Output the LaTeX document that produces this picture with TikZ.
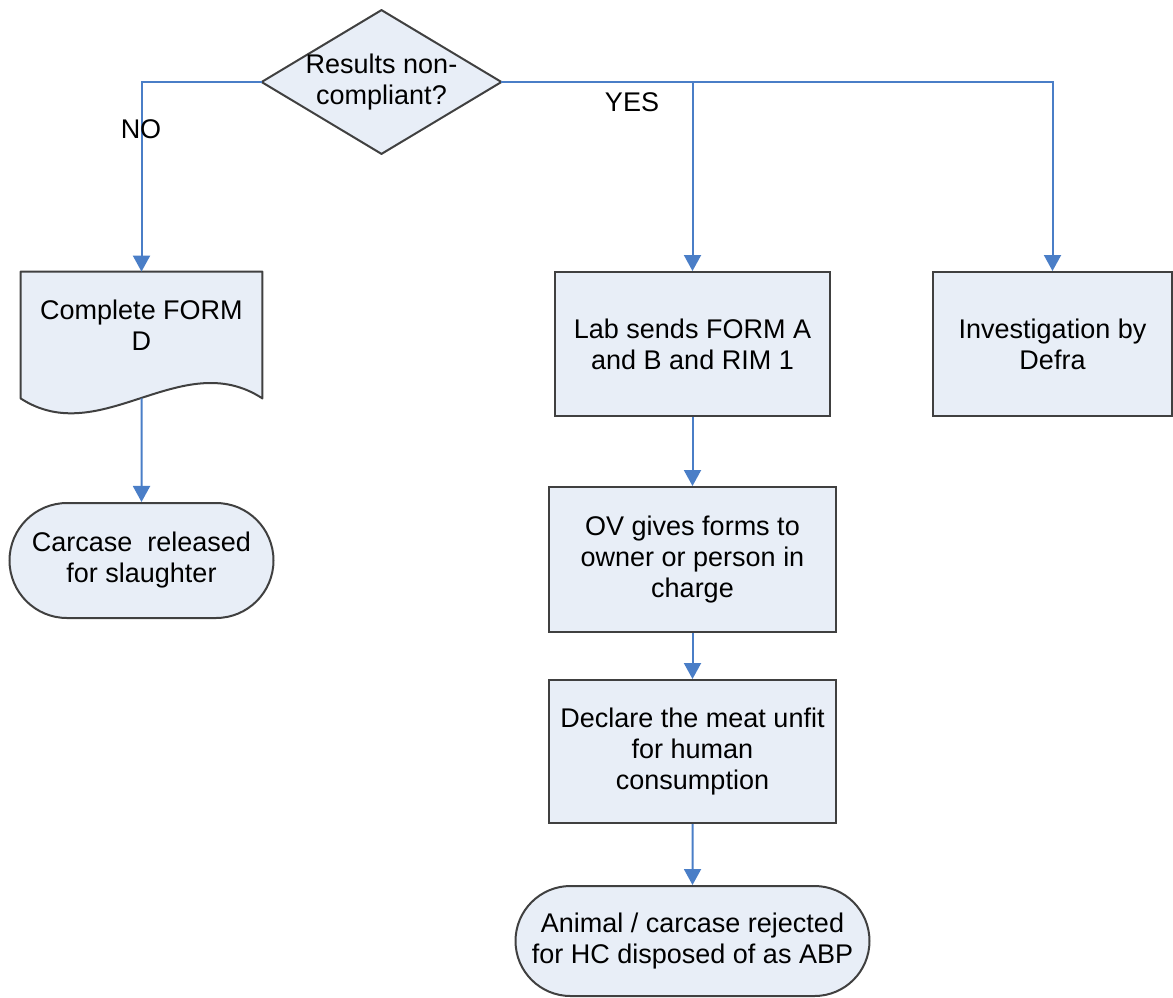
\documentclass[tikz,border=0pt]{standalone}
\usepackage{fontspec}
\setmainfont{Liberation Sans}
\usetikzlibrary{arrows.meta,shapes.misc,backgrounds}
\definecolor{boxfill}{HTML}{E8EEF7}
\definecolor{boxline}{HTML}{404040}
\definecolor{flowblue}{HTML}{4A7EC7}
\tikzset{
	proc/.style={draw=boxline, fill=boxfill, line width=1pt, align=center, inner sep=0pt},
	term/.style={proc, rounded rectangle},
	bare/.style={align=center, inner sep=0pt},
	outline/.style={draw=boxline, fill=boxfill, line width=1pt, line join=round},
	flow/.style={draw=flowblue, line width=1pt, -{Triangle[width=8.5pt,length=8pt]}},
	tag/.style={inner sep=0pt}
}
\begin{document}
\begin{tikzpicture}[x=0.5pt, y=-0.5pt, font=\fontsize{13.5}{15.5}\selectfont]
		\useasboundingbox (0,0) rectangle (1173,997);
		\node[bare, minimum width=119.5pt, minimum height=71.5pt] (dec) at (381.5,82) {Results non-\\compliant?};
		\node[bare, minimum width=120.5pt, minimum height=53pt] (formd) at (141.5,325) {Complete FORM\\D};
		\coordinate (formdwave) at ([yshift=-10pt]formd.south);
		\node[term, minimum width=132pt, minimum height=57.5pt] (released) at (141.5,560.5) {Carcase\ \ released\\for slaughter};
		\node[proc, minimum width=137.5pt, minimum height=72pt] (lab) at (692.5,344) {Lab sends FORM A\\and B and RIM 1};
		\node[proc, minimum width=119.5pt, minimum height=72pt] (defra) at (1052.5,344) {Investigation by\\Defra};
		\node[proc, minimum width=143.5pt, minimum height=72.5pt] (ov) at (692.5,559.5) {OV gives forms to\\owner or person in\\charge};
		\node[proc, minimum width=143.5pt, minimum height=71.5pt] (unfit) at (692.5,751.5) {Declare the meat unfit\\for human\\consumption};
		\node[term, minimum width=177pt, minimum height=55pt] (rejected) at (692.5,941) {Animal / carcase rejected\\for HC disposed of as ABP};
		\begin{pgfonlayer}{background}
			\draw[outline] (dec.north) -- (dec.east) -- (dec.south) -- (dec.west) -- cycle;
			\draw[outline] (formd.north west) -- ([yshift=-10pt]formd.south west)
			      .. controls +(40pt,-26pt) and +(-40.5pt,26.5pt) .. ([yshift=-10pt]formd.south east)
			      -- (formd.north east) -- cycle;
		\end{pgfonlayer}
		\draw[flow] (dec.west) -| (formd.north);
		\draw[flow] (dec.east) -| (lab.north);
		\draw[flow] (dec.east) -| (defra.north);
		\draw[flow] (formdwave) -- (released);
		\draw[flow] (lab) -- (ov);
		\draw[flow] (ov) -- (unfit);
		\draw[flow] (unfit) -- (rejected);
		\node[tag] (no) at (141,129) {NO};
		\node[tag] (yes) at (632,102) {YES};
\end{tikzpicture}
\end{document}
